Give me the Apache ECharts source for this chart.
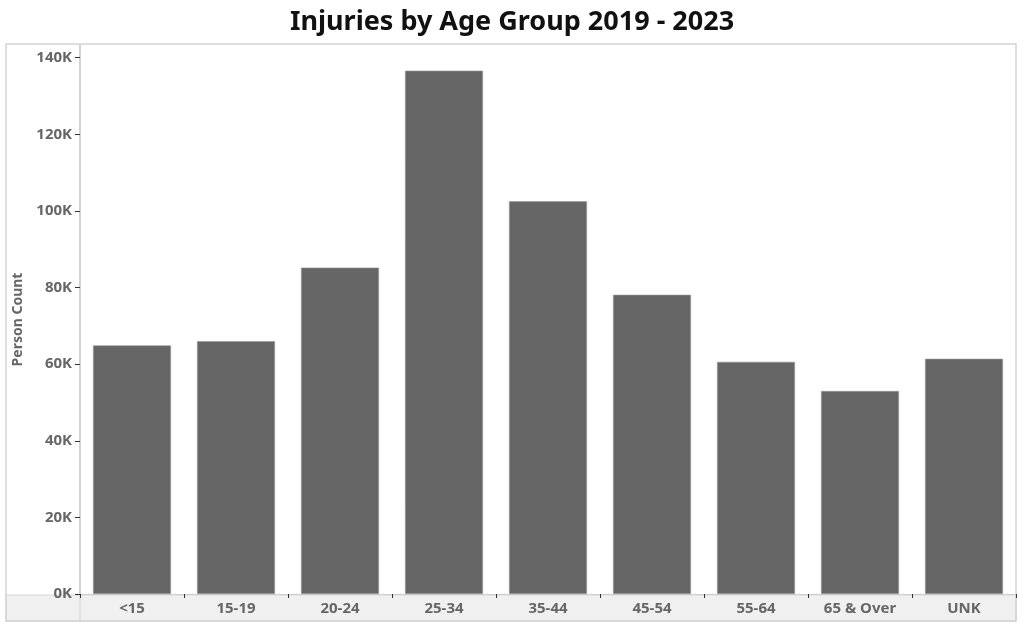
<!DOCTYPE html>
<html>
<head>
<meta charset="utf-8">
<title>Injuries by Age Group 2019 - 2023</title>
<script src="https://cdn.jsdelivr.net/npm/echarts@6/dist/echarts.min.js"></script>
<style>
  html, body { margin: 0; padding: 0; background: #fff; }
  #main { width: 1024px; height: 630px; }
</style>
</head>
<body>
<div id="main"></div>
<script>
// data
var ageGroups = ['<15', '15-19', '20-24', '25-34', '35-44', '45-54', '55-64', '65 & Over', 'UNK'];
var personCount = [64900, 66000, 85200, 136600, 102500, 78100, 60600, 53000, 61400];

var labelGray = '#666666';
var font = 'Noto Sans';

var chart = echarts.init(document.getElementById('main'));

chart.setOption({
  animation: false,
  textStyle: { fontFamily: font },
  title: {
    text: 'Injuries by Age Group 2019 - 2023',
    left: 'center',
    top: 4,
    textStyle: { fontSize: 27, fontWeight: 'bold', color: '#111', fontFamily: font }
  },
  grid: { left: 80, right: 8, top: 45, bottom: 36 },
  // frame and bottom header strip, like the tableau sheet
  graphic: [
    {
      type: 'rect', silent: true, z: -10,
      shape: { x: 6, y: 595, width: 1010, height: 26 },
      style: { fill: '#f0f0f0', stroke: '#d6d6d6', lineWidth: 1 }
    },
    {
      type: 'rect', silent: true, z: -10,
      shape: { x: 6, y: 44, width: 1010, height: 577 },
      style: { fill: 'none', stroke: '#d3d3d3', lineWidth: 1.5 }
    },
    {
      type: 'line', silent: true, z: -10,
      shape: { x1: 80, y1: 595, x2: 80, y2: 621 },
      style: { stroke: '#d0d0d0', lineWidth: 1 }
    }
  ],
  xAxis: {
    type: 'category',
    data: ageGroups,
    axisLine: { lineStyle: { color: '#cfcfcf', width: 1 } },
    axisTick: { show: true, length: 4, alignWithLabel: false, lineStyle: { color: '#333' } },
    axisLabel: { color: labelGray, fontSize: 15, fontWeight: 'bold', margin: 7, interval: 0 }
  },
  yAxis: {
    type: 'value',
    min: 0,
    max: 143300,
    interval: 20000,
    name: 'Person Count',
    nameLocation: 'middle',
    nameGap: 55,
    nameTextStyle: { color: labelGray, fontSize: 14, fontWeight: 'bold' },
    axisLine: { show: true, lineStyle: { color: '#c4c4c4', width: 1.5 } },
    axisTick: { show: true, length: 5, lineStyle: { color: '#333' } },
    splitLine: { show: false },
    axisLabel: {
      color: labelGray, fontSize: 15, fontWeight: 'bold', margin: 8,
      showMaxLabel: false,
      formatter: function (v) { return (v / 1000) + 'K'; }
    }
  },
  series: [{
    type: 'bar',
    data: personCount,
    barWidth: '75%',
    itemStyle: { color: '#666666', borderColor: '#9a9a9a', borderWidth: 0.6 }
  }]
});
</script>
</body>
</html>
